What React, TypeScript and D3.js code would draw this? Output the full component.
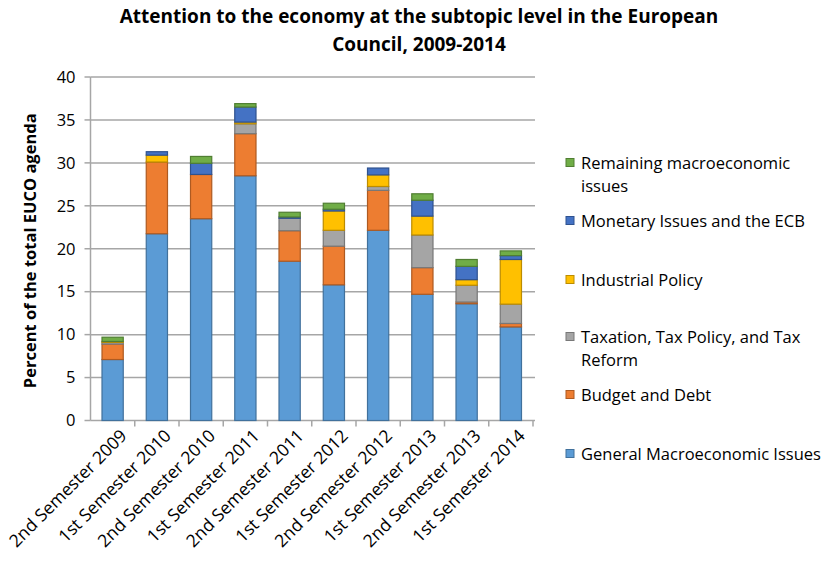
import React from "react";
import * as d3 from "d3";

const categories = [
  "2nd Semester 2009", "1st Semester 2010", "2nd Semester 2010", "1st Semester 2011",
  "2nd Semester 2011", "1st Semester 2012", "2nd Semester 2012", "1st Semester 2013",
  "2nd Semester 2013", "1st Semester 2014",
];
const generalMacro = [7.1, 21.75, 23.5, 28.5, 18.55, 15.8, 22.15, 14.7, 13.6, 10.9];
const budgetDebt = [1.8, 8.35, 5.15, 4.9, 3.55, 4.5, 4.65, 3.1, 0.2, 0.4];
const taxation = [0.2, 0, 0, 1.15, 1.45, 1.85, 0.45, 3.8, 1.95, 2.25];
const industrial = [0.1, 0.8, 0, 0.2, 0, 2.25, 1.35, 2.2, 0.65, 5.2];
const monetary = [0, 0.4, 1.3, 1.75, 0.15, 0.2, 0.8, 1.85, 1.55, 0.45];
const remaining = [0.5, 0, 0.8, 0.4, 0.55, 0.7, 0, 0.75, 0.8, 0.55];
const yTicks = [0, 5, 10, 15, 20, 25, 30, 35, 40];

const seriesNames = [
  "General Macroeconomic Issues",
  "Budget and Debt",
  "Taxation, Tax Policy, and Tax Reform",
  "Industrial Policy",
  "Monetary Issues and the ECB",
  "Remaining macroeconomic issues",
];
const seriesValues = [generalMacro, budgetDebt, taxation, industrial, monetary, remaining];
const fills = ["#5B9BD5", "#ED7D31", "#A5A5A5", "#FFC000", "#4472C4", "#70AD47"];
const strokes = ["#41719C", "#AE5A21", "#787878", "#BC8C00", "#2F528F", "#507E32"];

const legendLines: string[][] = [
  ["Remaining macroeconomic", "issues"],
  ["Monetary Issues and the ECB"],
  ["Industrial Policy"],
  ["Taxation, Tax Policy, and Tax", "Reform"],
  ["Budget and Debt"],
  ["General Macroeconomic Issues"],
];
const legendColorIdx = [5, 4, 3, 2, 1, 0];

export default function App() {
  const W = 829, H = 562;
  const left = 90.5, right = 533, top = 77, bottom = 420.5;
  const x = d3.scaleBand<string>().domain(categories).range([left, right]).paddingInner(0.52).paddingOuter(0.26);
  const xTick = d3.scaleBand<string>().domain(categories).range([left, right]);
  const y = d3.scaleLinear().domain([0, 40]).range([bottom, top]);

  const rows = categories.map((c, i) => {
    const r: any = { cat: c };
    seriesNames.forEach((s, k) => (r[s] = seriesValues[k][i]));
    return r;
  });
  const stacked = d3.stack<any>().keys(seriesNames)(rows);
  const font = "'Open Sans', sans-serif";
  const gridColor = "#A6A6A6";
  const legendY = [163, 221, 280, 337, 395, 454];

  return (
    <svg width={W} height={H} style={{ position: "absolute", left: 0, top: 0, background: "#fff" }} fontFamily={font}>
      <rect width={W} height={H} fill="#fff" />
      <text x={419} y={23} textAnchor="middle" fontSize={19} fontWeight="bold" fill="#000">
        Attention to the economy at the subtopic level in the European
      </text>
      <text x={419} y={51} textAnchor="middle" fontSize={19} fontWeight="bold" fill="#000">
        Council, 2009-2014
      </text>
      {yTicks.map((t) => (
        <g key={t}>
          {t > 0 && <line x1={left} x2={right + 2} y1={y(t)} y2={y(t)} stroke={gridColor} strokeWidth={1.5} />}
          <line x1={left - 6} x2={left} y1={y(t)} y2={y(t)} stroke={gridColor} strokeWidth={1.5} />
          <text x={left - 15} y={y(t)} dy="0.35em" textAnchor="end" fontSize={16.5} fill="#000">{t}</text>
        </g>
      ))}
      <line x1={left} x2={left} y1={top} y2={bottom} stroke={gridColor} strokeWidth={1.5} />
      <line x1={left} x2={right + 2} y1={bottom} y2={bottom} stroke={gridColor} strokeWidth={1.5} />
      {categories.map((c) => (
        <line key={c} x1={(xTick(c) as number) + xTick.bandwidth()} x2={(xTick(c) as number) + xTick.bandwidth()}
          y1={bottom} y2={bottom + 6} stroke={gridColor} strokeWidth={1.5} />
      ))}
      {stacked.map((s, k) => (
        <g key={s.key}>
          {s.map((d, i) => {
            const h = y(d[0]) - y(d[1]);
            if (h <= 0) return null;
            return (
              <rect key={i} x={x(categories[i])} y={y(d[1])} width={x.bandwidth()} height={h}
                fill={fills[k]} stroke={strokes[k]} strokeWidth={1.2} />
            );
          })}
        </g>
      ))}
      {categories.map((c) => {
        const cx = (xTick(c) as number) + xTick.bandwidth() / 2 + 11;
        return (
          <text key={c} transform={`translate(${cx},${bottom + 12}) rotate(-45)`} textAnchor="end"
            fontSize={17.5} fill="#000" dy="0.35em">{c}</text>
        );
      })}
      <text transform={`translate(36,${(top + bottom) / 2 + 2}) rotate(-90)`} textAnchor="middle"
        fontSize={16.5} fontWeight="bold" fill="#000">Percent of the total EUCO agenda</text>
      {legendLines.map((lines, j) => {
        const k = legendColorIdx[j];
        return (
          <g key={j}>
            <rect x={566} y={legendY[j] - 4.5} width={8} height={8} fill={fills[k]} stroke={strokes[k]} strokeWidth={1} />
            {lines.map((ln, li) => (
              <text key={li} x={581} y={legendY[j] + li * 23} dy="0.35em" fontSize={16.5} fill="#000">{ln}</text>
            ))}
          </g>
        );
      })}
    </svg>
  );
}
